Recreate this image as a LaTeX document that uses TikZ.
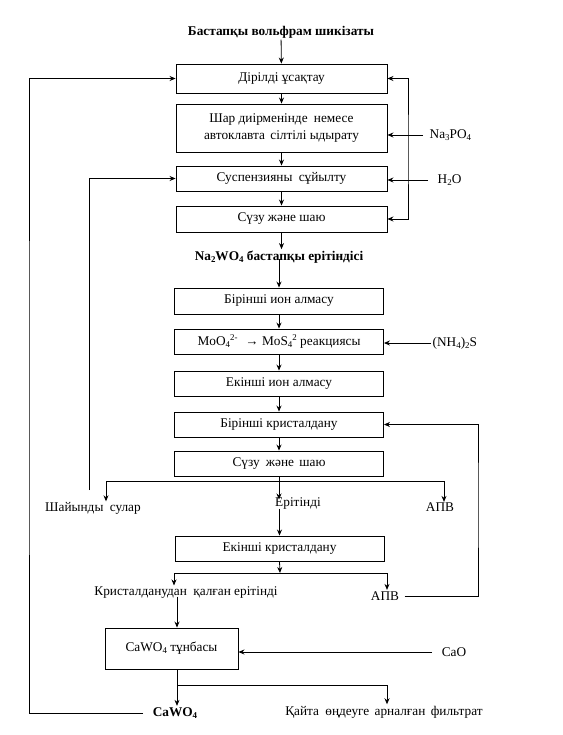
\documentclass[tikz,border=0pt]{standalone}
\usepackage{fontspec}
\setmainfont{Liberation Serif}
\usetikzlibrary{arrows.meta}
\newcommand\ssb[1]{\raisebox{-0.35ex}{\fontsize{8.9}{9}\selectfont #1}}
\newcommand\ssp[1]{\raisebox{0.75ex}{\fontsize{8.9}{9}\selectfont #1}}
\begin{document}
\begin{tikzpicture}[x=1pt,y=-1pt,
  font=\fontsize{13.3}{15.5}\selectfont,
  box/.style={draw, line width=0.9pt, minimum width=211pt, inner sep=0pt, align=center},
  lbl/.style={inner sep=1.5pt},
  ln/.style={line width=0.8pt},
  arr/.style={ln, -{Stealth[length=6pt,width=5pt]}},
  arrb/.style={ln, {Stealth[length=6pt,width=5pt]}-{Stealth[length=6pt,width=5pt]}}]
\fill[white] (0,0) rectangle (562,735);
\useasboundingbox (0,0) rectangle (562,735);

% top column
\node[lbl, font=\fontsize{13.3}{15.5}\selectfont\bfseries] (title) at (281,32) {Бастапқы вольфрам шикізаты};
\node[box, minimum height=29pt] (b1) at (281.5,78.5) {Дірілді ұсақтау};
\node[box, minimum height=48pt] (b2) at (281.5,128) {Шар диірменінде\hspace{3pt} немесе\\[1pt]автоклавта\hspace{2pt} сілтілі ыдырату};
\node[box, minimum height=25pt] (b3) at (281.5,178.5) {Суспензияны\hspace{3pt} сұйылту};
\node[box, minimum height=26pt] (b4) at (281.5,219) {Сүзу және шаю};
\node[lbl, font=\fontsize{13.3}{15.5}\selectfont\bfseries] (na2) at (279,257) {Na\ssb{2}WO\ssb{4} бастапқы ерітіндісі};

\node[lbl, anchor=west] (na3) at (428,135) {Na\ssb{3}PO\ssb{4}};
\node[lbl, anchor=west] (h2o) at (436,180) {H\ssb{2}O};

\draw[arr] (title) -- (b1);
\draw[arr] (b1) -- (b2);
\draw[arr] (b2) -- (b3);
\draw[arr] (b3) -- (b4);
\draw[arr] (b4.south) -- (b4.south |- na2.north);
\draw[arr] ([xshift=-5pt]na3.west) -- (na3.west -| b2.east);
\draw[arr] ([xshift=-8pt]h2o.west) -- (h2o.west -| b3.east);
\coordinate (rx) at (408,150);
\draw[arrb] (b1.east) -| (rx) |- (b4.east);

% middle column
\node[box, minimum width=209pt, minimum height=26pt] (b5) at (279,301) {Бірінші ион алмасу};
\node[box, minimum width=209pt, minimum height=25pt] (b6) at (279,341.5) {MoO\ssb{4}\ssp{2-}\hspace{8pt}→ MoS\ssb{4}\ssp{2} реакциясы};
\node[box, minimum width=209pt, minimum height=25pt] (b7) at (279,383.5) {Екінші ион алмасу};
\node[box, minimum width=209pt, minimum height=25pt] (b8) at (279,424.5) {Бірінші кристалдану};
\node[box, minimum width=209pt, minimum height=25pt] (b9) at (279,463.5) {Сүзу\hspace{3pt} және\hspace{2pt} шаю};
\node[lbl, anchor=west] (nh4) at (431,343) {(NH\ssb{4})\ssb{2}S};

\draw[arr] ([yshift=6pt]b5.north |- na2.south) -- (b5.north);
\draw[arr] (b5) -- (b6);
\draw[arr] (b6) -- (b7);
\draw[arr] (b7) -- (b8);
\draw[arr] (b8) -- (b9);
\draw[arr] (nh4.west) -- (nh4.west -| b6.east);

% split after b9
\node[lbl] (shay) at (93,508) {Шайынды\hspace{3pt} сулар};
\node[lbl] (eri) at (298,504) {Ерітінді};
\node[lbl] (apv1) at (440,507) {АПВ};
\coordinate (sl) at (106,481);
\coordinate (sr) at (444,481);
\draw[ln] (sl) -- (sr);
\draw[arr] (b9.south) -- ([yshift=-3pt]b9.south |- eri.north);
\draw[arr] (sl) -- ([yshift=-1pt]sl |- shay.north);
\draw[arr] (sr) -- ([yshift=-1pt]sr |- apv1.north);
\coordinate (lin) at (89,490);
\draw[arr] (lin) |- (b3.west);

\node[box, minimum width=209pt, minimum height=25pt] (b10) at (279.5,548.5) {Екінші кристалдану};
\draw[arr] ([yshift=3pt]eri.south -| b10.north) -- (b10.north);

\node[lbl] (kri) at (186,593) {Кристалданудан\hspace{3pt} қалған ерітінді};
\node[lbl] (apv2) at (385,596) {АПВ};
\coordinate (c2) at (280,573);
\coordinate (c2l) at (174,573);
\coordinate (c2r) at (387,573);
\draw[arr] (b10.south) -- (c2);
\draw[arrb] (c2l |- kri.north) |- (c2r) -- (c2r |- apv2.north);
\coordinate (rx2) at (478,500);
\draw[arr] ([xshift=4pt]apv2.east) -| (rx2) |- (b8.east);

% bottom
\node[draw, line width=0.9pt, minimum width=133pt, minimum height=41pt, inner sep=0pt] (b11) at (171.5,648.5) {CaWO\ssb{4} тұнбасы};
\node[lbl] (cao) at (454,652) {CaO};
\coordinate (ax) at (177,0);
\draw[arr] ([yshift=4pt]kri.south -| ax) -- (b11.north -| ax);
\draw[arr] ([xshift=-8pt]cao.west) -- (cao.west -| b11.east);

\node[lbl, font=\fontsize{13.3}{15.5}\selectfont\bfseries] (cawo) at (175,713) {CaWO\ssb{4}};
\node[lbl] (kayta) at (384,712) {Қайта\hspace{3pt} өңдеуге\hspace{2pt} арналған\hspace{2pt} фильтрат};
\coordinate (bs) at (177,685);
\coordinate (bsr) at (387,685);
\draw[arr] (b11.south -| ax) -- (cawo.north -| ax);
\draw[arr] (bs) -- (bsr) -- (bsr |- kayta.north);

\coordinate (lx) at (29,400);
\draw[arr] ([xshift=-8pt]cawo.west) -| (lx) |- (b1.west);
\end{tikzpicture}
\end{document}
